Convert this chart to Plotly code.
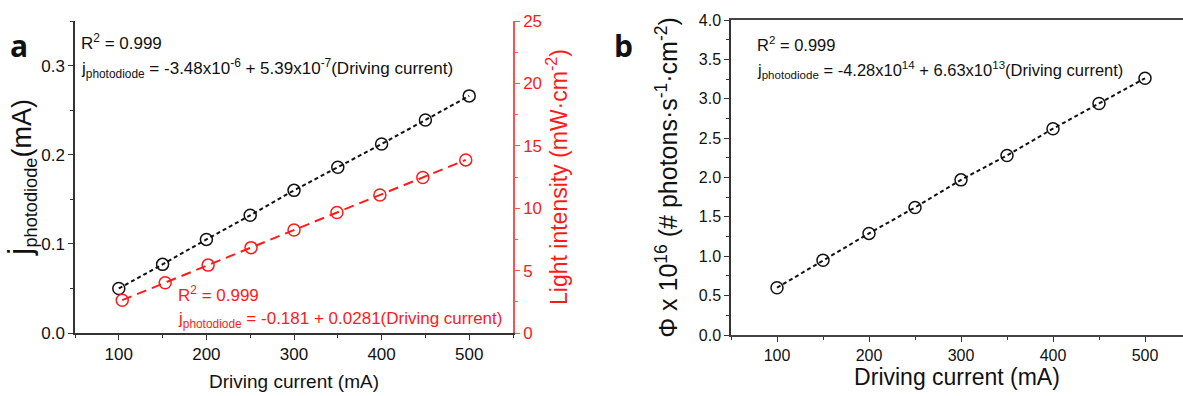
import plotly.graph_objects as go

# ---- data ----
current_ma = [100, 150, 200, 250, 300, 350, 400, 450, 500]
j_photodiode_ma = [0.050, 0.077, 0.105, 0.132, 0.160, 0.186, 0.212, 0.239, 0.266]
light_intensity = [2.63, 4.03, 5.44, 6.84, 8.25, 9.65, 11.06, 12.46, 13.87]
photon_flux_e16 = [0.60, 0.95, 1.29, 1.62, 1.97, 2.28, 2.62, 2.94, 3.26]

W, H = 1183, 396
FONT = "Arial, 'Liberation Sans', sans-serif"
BLACK = "#111111"
AXIS = "#333333"
RED = "#ff1a1a"
RED_AXIS = "#ff5050"


def px(x):
    return x / W


def py(y):
    return 1 - y / H


dom_ax = [px(75), px(513)]
dom_ay = [py(333), py(21)]
dom_bx = [px(731), 1.0]
dom_by = [py(335), py(20)]

fig = go.Figure()

# panel a: photodiode current (black, short dashes)
fig.add_trace(go.Scatter(
    x=current_ma, y=j_photodiode_ma, xaxis="x", yaxis="y",
    mode="lines+markers",
    line=dict(color=BLACK, width=2, dash="4px,3px"),
    marker=dict(symbol="circle-open", size=12, color=BLACK, line=dict(width=1.5)),
    showlegend=False,
))

# panel a: light intensity (red, long dashes) on its own layer
fig.add_trace(go.Scatter(
    x=current_ma, y=light_intensity, xaxis="x2", yaxis="y2",
    mode="lines+markers",
    line=dict(color=RED, width=2, dash="10px,6px"),
    marker=dict(symbol="circle-open", size=12, color=RED, line=dict(width=1.5)),
    showlegend=False,
))

# panel b: photon flux
fig.add_trace(go.Scatter(
    x=current_ma, y=photon_flux_e16, xaxis="x4", yaxis="y3",
    mode="lines+markers",
    line=dict(color=BLACK, width=2, dash="4px,3px"),
    marker=dict(symbol="circle-open", size=12, color=BLACK, line=dict(width=1.5)),
    showlegend=False,
))

common = dict(showgrid=False, zeroline=False, showline=True, linewidth=1.5,
              automargin=False)

fig.update_layout(
    width=W, height=H,
    margin=dict(l=0, r=0, t=0, b=0),
    paper_bgcolor="white", plot_bgcolor="white",
    font=dict(family=FONT, color=BLACK),
    xaxis=dict(
        domain=dom_ax, anchor="y", range=[50, 550], **common, linecolor=AXIS,
        tickmode="linear", tick0=0, dtick=100, ticks="outside", ticklen=5,
        tickwidth=1.2, tickcolor=AXIS,
        minor=dict(ticks="outside", dtick=50, ticklen=3, tickcolor=AXIS),
        tickfont=dict(size=17, color=BLACK),
        title=dict(text="Driving current (mA)", font=dict(size=19), standoff=12),
    ),
    xaxis2=dict(overlaying="x", anchor="y2", range=[45, 555], visible=False),
    xaxis3=dict(
        overlaying="x", anchor="y", side="top", range=[50, 550], **common,
        linecolor=AXIS, tickmode="linear", tick0=0, dtick=100,
        ticks="inside", ticklen=5, tickwidth=1.2, tickcolor=AXIS,
        minor=dict(ticks="inside", dtick=50, ticklen=3, tickcolor=AXIS),
        showticklabels=False,
    ),
    yaxis=dict(
        domain=dom_ay, anchor="x", range=[0, 0.35], **common, linecolor=AXIS,
        tickmode="linear", tick0=0, dtick=0.1, tickformat=".1f",
        ticks="outside", ticklen=5, tickwidth=1.2, tickcolor=AXIS,
        minor=dict(ticks="outside", dtick=0.05, ticklen=3, tickcolor=AXIS),
        tickfont=dict(size=17, color=BLACK),
        title=dict(
            text="<span style='font-size:33px'>j</span><sub>photodiode</sub>"
                 "<span style='font-size:27px'>(mA)</span>",
            font=dict(size=26), standoff=2,
        ),
    ),
    yaxis2=dict(
        overlaying="y", anchor="x", side="right", range=[0, 25], **common,
        linecolor=RED_AXIS, tickmode="linear", tick0=0, dtick=5,
        ticks="outside", ticklen=5, tickwidth=1.2, tickcolor=RED_AXIS,
        minor=dict(ticks="outside", dtick=2.5, ticklen=3, tickcolor=RED_AXIS),
        tickfont=dict(size=17, color=RED),
        title=dict(text="Light intensity (mW·cm<sup>-2</sup>)",
                   font=dict(size=23, color=RED), standoff=1),
    ),
    xaxis4=dict(
        domain=dom_bx, anchor="y3", range=[50, 541.3], **common,
        linecolor="#444444", mirror=True,
        tickmode="linear", tick0=0, dtick=100, ticks="outside", ticklen=5,
        tickwidth=1.2, tickcolor=AXIS,
        minor=dict(ticks="outside", dtick=50, ticklen=3, tickcolor=AXIS),
        tickfont=dict(size=16, color=BLACK),
        title=dict(text="Driving current (mA)", font=dict(size=23), standoff=6),
    ),
    yaxis3=dict(
        domain=dom_by, anchor="x4", range=[0, 4], **common, linecolor=AXIS,
        tickmode="linear", tick0=0, dtick=0.5, tickformat=".1f",
        ticks="outside", ticklen=5, tickwidth=1.2, tickcolor=AXIS,
        minor=dict(ticks="outside", dtick=0.25, ticklen=3, tickcolor=AXIS),
        tickfont=dict(size=16, color=BLACK),
        title=dict(
            text="Φ x 10<sup>16</sup> (# photons·s<sup>-1</sup>·cm<sup>-2</sup>)",
            font=dict(size=25), standoff=14,
        ),
    ),
)


def note(x, y, text, color=BLACK, size=17, family=FONT, bold=False):
    if bold:
        text = f"<b>{text}</b>"
    fig.add_annotation(
        x=px(x), y=py(y), xref="paper", yref="paper", text=text,
        showarrow=False, xanchor="left", yanchor="middle",
        font=dict(size=size, color=color, family=family),
    )


# panel letters
note(8, 46, "a", size=30, family="'Open Sans', sans-serif", bold=True)
note(612, 46, "b", size=30, family="'Open Sans', sans-serif", bold=True)

# fit results, panel a (black)
note(79, 42, "R<sup>2</sup> = 0.999")
note(79, 68, "j<sub>photodiode</sub> = -3.48x10<sup>-6</sup> + "
             "5.39x10<sup>-7</sup>(Driving current)")
# fit results, panel a (red)
note(176, 294, "R<sup>2</sup> = 0.999", color=RED)
note(176, 320, "j<sub>photodiode</sub> = -0.181 + 0.0281(Driving current)",
     color=RED)
# fit results, panel b
note(755, 44, "R<sup>2</sup> = 0.999", size=16.5)
note(755, 70, "j<sub>photodiode</sub> = -4.28x10<sup>14</sup> + "
              "6.63x10<sup>13</sup>(Driving current)", size=16.5)

fig.write_html("out.html")
